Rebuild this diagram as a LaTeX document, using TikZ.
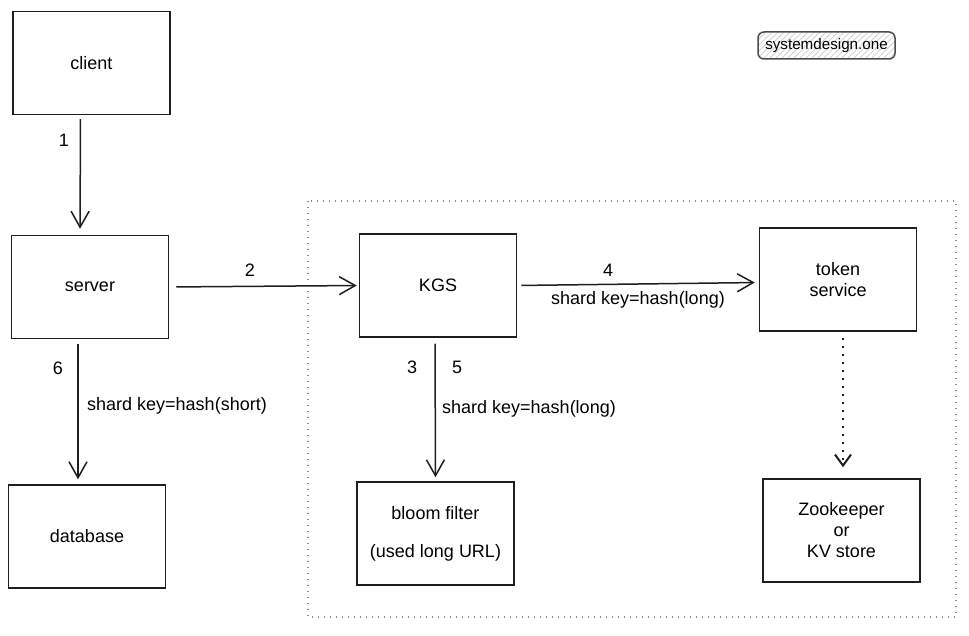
\documentclass[tikz,border=0pt]{standalone}
\usepackage{fontspec}
\setmainfont{Liberation Sans}
\usetikzlibrary{arrows.meta,patterns}
\definecolor{ink}{HTML}{1E1E1E}
\definecolor{dotgray}{HTML}{8A8A8A}

\begin{document}
\begin{tikzpicture}[
    x=0.5pt,y=-0.5pt,
    box/.style={draw=ink,line width=0.75pt,minimum width=78.5pt,minimum height=51.5pt,
      inner sep=0pt,align=center,font=\fontsize{9}{10.5}\selectfont},
    flow/.style={draw=ink,line width=0.75pt,
      -{Straight Barb[length=8pt,width=9pt,line width=0.75pt]}},
    weakflow/.style={draw=ink,line width=1.2pt,dash pattern=on 1.2pt off 2.8pt,
      -{Straight Barb[length=5.5pt,width=8pt,line width=1pt]}},
    groupline/.style={draw=dotgray,line width=0.6pt,dash pattern=on 0.6pt off 2.4pt},
    badge/.style={draw=ink!80,line width=0.75pt,rounded corners=3pt,
      pattern=north east lines,pattern color=gray!35,
      minimum width=68.5pt,minimum height=13.5pt,inner sep=0pt,font=\fontsize{7.6}{8}\selectfont},
    elabel/.style={font=\fontsize{9}{10.5}\selectfont,inner sep=1pt}
]
\useasboundingbox (0,0) rectangle (969,636);

% key generation group
\draw[groupline] (308,201) rectangle (956,617);

\node[badge] (brand) at (826.5,45.5) {systemdesign.one};

% boxes
\node[box] (client)   at (91.5,63)    {client};
\node[box] (server)   at (90,287)     {server};
\node[box] (database) at (87,536.5)   {database};
\node[box] (kgs)      at (438,285.5)  {KGS};
\node[box] (bloom)    at (435.5,533.5){bloom filter\\[8.5pt](used long URL)};
\node[box] (token)    at (838,279.5)  {token\\service};
\node[box] (zk)       at (841.5,530.5){Zookeeper\\or\\KV store};

% requests
\draw[flow,shorten <=2pt,shorten >=3pt] ([xshift=-5.5pt]client.south) -- ([xshift=-5pt]server.north);
\draw[flow,shorten <=3.5pt,shorten >=1pt] (server.east) -- (kgs.west);
\draw[flow,shorten <=2pt,shorten >=2pt] (kgs.east) -- ([yshift=-1.5pt]token.west);
\draw[flow,shorten <=3pt,shorten >=2pt] ([xshift=-1.5pt]kgs.south) -- (bloom.north);
\draw[flow,shorten <=2.5pt,shorten >=2.5pt] ([xshift=-6pt]server.south) -- ([xshift=-4.5pt]database.north);
\draw[weakflow,shorten <=3pt,shorten >=5.5pt] ([xshift=2.5pt]token.south) -- ([xshift=0.75pt]zk.north);

% labels
\node[elabel] (n1) at (64,140)  {1};
\node[elabel] (n2) at (250,270) {2};
\node[elabel] (n3) at (412,367) {3};
\node[elabel] (n5) at (457,367) {5};
\node[elabel] (n4) at (608,270) {4};
\node[elabel] (n6) at (58,368)  {6};
\node[elabel] (k4) at (638,300) {shard key=hash(long)};
\node[elabel] (k5) at (529,409) {shard key=hash(long)};
\node[elabel] (k6) at (177,406) {shard key=hash(short)};
\end{tikzpicture}
\end{document}
